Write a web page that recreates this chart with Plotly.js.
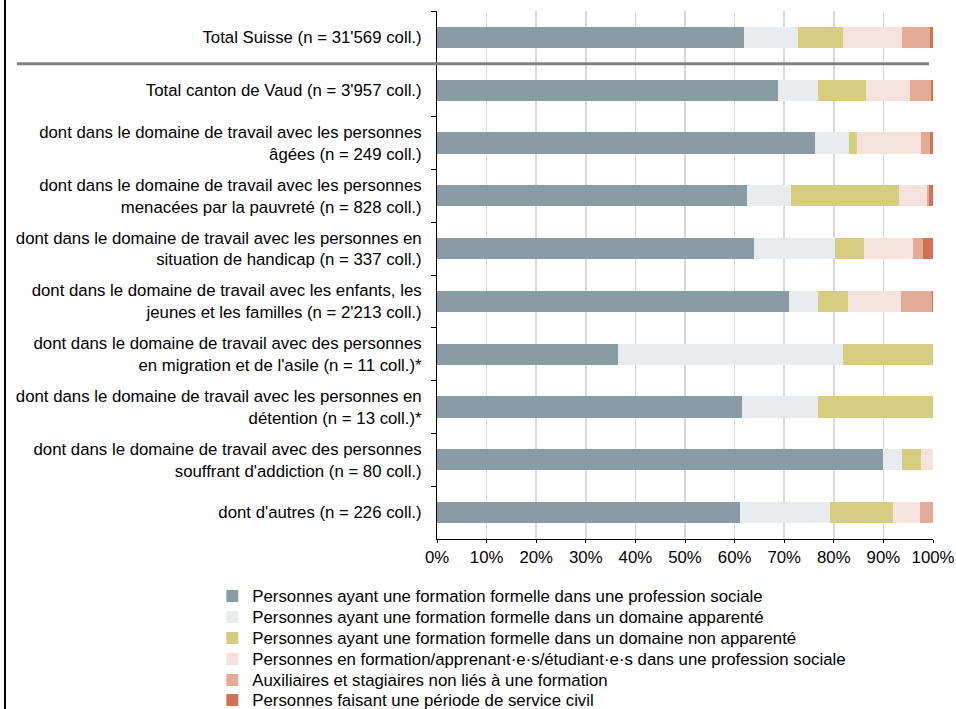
<!DOCTYPE html>
<html>
<head>
<meta charset="utf-8">
<script src="https://cdn.plot.ly/plotly-3.0.1.min.js"></script>
<style>
  html, body { margin: 0; padding: 0; background: #fff; }
  #wrap { position: relative; width: 956px; height: 709px; }
  #chart { width: 956px; height: 709px; }
  #frame { position: absolute; left: 4px; top: 0; width: 2px; height: 709px; background: #000; }
</style>
</head>
<body>
<div id="wrap">
  <div id="chart"></div>
  <div id="frame"></div>
</div>
<script>
const categories = [
  "Total Suisse (n = 31'569 coll.)",
  "Total canton de Vaud (n = 3'957 coll.)",
  "dont dans le domaine de travail avec les personnes<br>âgées (n = 249 coll.)",
  "dont dans le domaine de travail avec les personnes<br>menacées par la pauvreté (n = 828 coll.)",
  "dont dans le domaine de travail avec les personnes en<br>situation de handicap (n = 337 coll.)",
  "dont dans le domaine de travail avec les enfants, les<br>jeunes et les familles (n = 2'213 coll.)",
  "dont dans le domaine de travail avec des personnes<br>en migration et de l'asile (n = 11 coll.)*",
  "dont dans le domaine de travail avec les personnes en<br>détention (n = 13 coll.)*",
  "dont dans le domaine de travail avec des personnes<br>souffrant d'addiction (n = 80 coll.)",
  "dont d'autres (n = 226 coll.)"
];

const seriesNames = [
  "Personnes ayant une formation formelle dans une profession sociale",
  "Personnes ayant une formation formelle dans un domaine apparenté",
  "Personnes ayant une formation formelle dans un domaine non apparenté",
  "Personnes en formation/apprenant·e·s/étudiant·e·s dans une profession sociale",
  "Auxiliaires et stagiaires non liés à une formation",
  "Personnes faisant une période de service civil"
];

const profSociale   = [61.9, 68.7, 76.3, 62.4, 64.0, 71.0, 36.4, 61.5, 90.0, 61.1];
const apparente     = [10.8,  8.2,  6.8,  9.0, 16.2,  5.8, 45.5, 15.4,  3.75, 18.1];
const nonApparente  = [ 9.2,  9.5,  1.6, 21.7,  5.8,  6.1, 18.1, 23.1,  3.75, 12.8];
const enFormation   = [11.8,  9.0, 12.9,  5.6,  9.9, 10.6,  0.0,  0.0,  2.5,  5.3];
const auxiliaires   = [ 5.6,  4.1,  1.7,  0.5,  2.1,  6.3,  0.0,  0.0,  0.0,  2.7];
const serviceCivil  = [ 0.7,  0.5,  0.7,  0.8,  2.0,  0.2,  0.0,  0.0,  0.0,  0.0];

const xTickVals = [0, 10, 20, 30, 40, 50, 60, 70, 80, 90, 100];
const xTickText = ["0%", "10%", "20%", "30%", "40%", "50%", "60%", "70%", "80%", "90%", "100%"];

const colors = ["#899ca6", "#e8ecef", "#d6cd80", "#f5e2dc", "#e3aa98", "#d27153"];
const allSeries = [profSociale, apparente, nonApparente, enFormation, auxiliaires, serviceCivil];

const font = "Arial, 'Liberation Sans', sans-serif";
const fs = 16.8;
const legendIds = ['legend', 'legend2', 'legend3', 'legend4', 'legend5', 'legend6'];

const traces = allSeries.map((vals, i) => ({
  type: 'bar',
  orientation: 'h',
  name: seriesNames[i],
  y: categories,
  x: vals,
  width: 0.4,
  legend: legendIds[i],
  marker: { color: colors[i], line: { width: 0 } },
  hoverinfo: 'skip'
}));

const layout = {
  width: 956,
  height: 709,
  margin: { l: 437, r: 23, t: 11, b: 170 },
  paper_bgcolor: '#fff',
  plot_bgcolor: '#fff',
  barmode: 'stack',
  font: { family: font, size: fs, color: '#000' },
  showlegend: true,
  xaxis: {
    range: [0, 100],
    tickvals: xTickVals,
    ticktext: xTickText,
    showgrid: true,
    gridcolor: '#d9d9d9',
    gridwidth: 1.5,
    zeroline: false,
    showline: true,
    linecolor: '#000',
    linewidth: 1,
    ticks: 'outside',
    ticklen: 3,
    tickcolor: '#000',
    tickfont: { family: font, size: fs, color: '#000' },
    fixedrange: true
  },
  yaxis: {
    type: 'category',
    autorange: 'reversed',
    showgrid: false,
    zeroline: false,
    showline: true,
    linecolor: '#000',
    linewidth: 1,
    ticks: 'outside',
    tickson: 'boundaries',
    ticklen: 5,
    tickcolor: '#000',
    ticklabelstandoff: 11,
    tickfont: { family: font, size: fs, color: '#000' },
    fixedrange: true
  },
  shapes: [
    {
      type: 'line',
      xref: 'paper', yref: 'y',
      x0: -0.847, x1: 0.992,
      y0: 0.5, y1: 0.5,
      line: { color: '#808080', width: 3 }
    }
  ]
};

const legendCenters = [596, 617, 638, 659, 680, 700];
legendIds.forEach((id, i) => {
  layout[id] = {
    orientation: 'v',
    xref: 'paper', yref: 'container',
    x: -0.453, xanchor: 'left',
    y: 1 - legendCenters[i] / 709, yanchor: 'middle',
    font: { family: font, size: fs, color: '#000' },
    itemwidth: 30,
    bgcolor: 'rgba(0,0,0,0)',
    borderwidth: 0
  };
});

Plotly.newPlot('chart', traces, layout, { displayModeBar: false, staticPlot: true });
</script>
</body>
</html>
